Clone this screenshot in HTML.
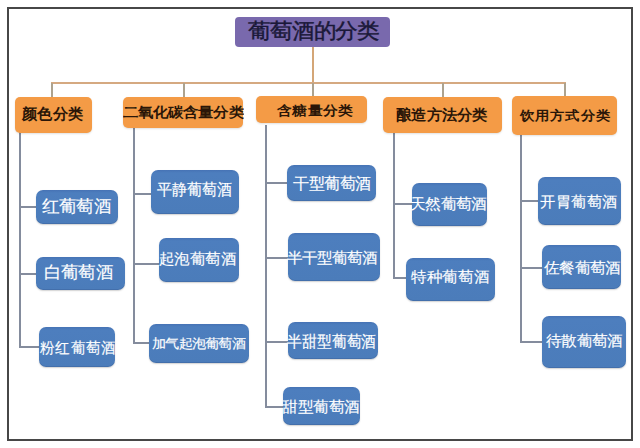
<!DOCTYPE html>
<html><head><meta charset="utf-8"><style>
html,body{margin:0;padding:0;background:#fff;}
body{width:640px;height:448px;position:relative;overflow:hidden;font-family:"Liberation Sans", sans-serif;}
#w{position:absolute;left:0;top:0;width:640px;height:448px;}
#w>div{position:absolute;}
</style></head><body><div id="w">
<div style="left:7px;top:7px;width:626px;height:434px;border:2px solid #474747;box-sizing:border-box;"></div>
<div style="left:311.5px;top:46px;width:2px;height:38px;background:#d4a677;"></div>
<div style="left:51.0px;top:82.0px;width:515px;height:2px;background:#d5a981;"></div>
<div style="left:51.0px;top:83px;width:2px;height:13.6px;background:#ada38f;"></div>
<div style="left:182.5px;top:83px;width:2px;height:13.9px;background:#ada38f;"></div>
<div style="left:311.5px;top:83px;width:2px;height:13.2px;background:#ada38f;"></div>
<div style="left:442.0px;top:83px;width:2px;height:13.9px;background:#ada38f;"></div>
<div style="left:564.0px;top:83px;width:2px;height:13.1px;background:#ada38f;"></div>
<div style="left:19.3px;top:125px;width:2px;height:223.3px;background:#848c9d;"></div>
<div style="left:20.3px;top:206.3px;width:15.7px;height:2px;background:#848c9d;"></div>
<div style="left:20.3px;top:273.0px;width:15.7px;height:2px;background:#848c9d;"></div>
<div style="left:20.3px;top:346.3px;width:18.7px;height:2px;background:#848c9d;"></div>
<div style="left:132.5px;top:125px;width:2px;height:219.3px;background:#848c9d;"></div>
<div style="left:133.5px;top:193.0px;width:17.5px;height:2px;background:#848c9d;"></div>
<div style="left:133.5px;top:263.0px;width:25.5px;height:2px;background:#848c9d;"></div>
<div style="left:133.5px;top:342.3px;width:15.5px;height:2px;background:#848c9d;"></div>
<div style="left:264.5px;top:125px;width:2px;height:283.0px;background:#848c9d;"></div>
<div style="left:265.5px;top:181.5px;width:21.5px;height:2px;background:#848c9d;"></div>
<div style="left:265.5px;top:256.5px;width:22.5px;height:2px;background:#848c9d;"></div>
<div style="left:265.5px;top:340.5px;width:22.5px;height:2px;background:#848c9d;"></div>
<div style="left:265.5px;top:406.0px;width:17.5px;height:2px;background:#848c9d;"></div>
<div style="left:393.0px;top:125px;width:2px;height:154.0px;background:#848c9d;"></div>
<div style="left:394px;top:203.0px;width:18px;height:2px;background:#848c9d;"></div>
<div style="left:394px;top:277.0px;width:12px;height:2px;background:#848c9d;"></div>
<div style="left:520.0px;top:125px;width:2px;height:218.0px;background:#848c9d;"></div>
<div style="left:521px;top:200.3px;width:17px;height:2px;background:#848c9d;"></div>
<div style="left:521px;top:267.0px;width:21px;height:2px;background:#848c9d;"></div>
<div style="left:521px;top:341.0px;width:21px;height:2px;background:#848c9d;"></div>
<div style="left:235px;top:17px;width:155px;height:30px;background:#7969ad;border-radius:4px;"></div>
<div style="left:15px;top:97px;width:77px;height:36px;background:#f49b46;border-radius:5px;box-shadow:0 1px 2px rgba(0,0,0,0.12);"></div>
<div style="left:123px;top:97px;width:120px;height:31px;background:#f49b46;border-radius:5px;box-shadow:0 1px 2px rgba(0,0,0,0.12);"></div>
<div style="left:256px;top:96px;width:111px;height:27px;background:#f49b46;border-radius:5px;box-shadow:0 1px 2px rgba(0,0,0,0.12);"></div>
<div style="left:383px;top:97px;width:119px;height:36px;background:#f49b46;border-radius:5px;box-shadow:0 1px 2px rgba(0,0,0,0.12);"></div>
<div style="left:512px;top:96px;width:105px;height:39px;background:#f49b46;border-radius:5px;box-shadow:0 1px 2px rgba(0,0,0,0.12);"></div>
<div style="left:36px;top:190px;width:82px;height:34px;background:linear-gradient(#4673b5 0px,#4d7ebe 3px,#4b7cba 100%);border-radius:7px;box-shadow:0 1px 1.5px rgba(0,0,0,0.18), inset 0 -1px 0 rgba(0,0,40,0.10);"></div>
<div style="left:36px;top:257px;width:89px;height:33px;background:linear-gradient(#4673b5 0px,#4d7ebe 3px,#4b7cba 100%);border-radius:7px;box-shadow:0 1px 1.5px rgba(0,0,0,0.18), inset 0 -1px 0 rgba(0,0,40,0.10);"></div>
<div style="left:39px;top:327px;width:76px;height:40px;background:linear-gradient(#4673b5 0px,#4d7ebe 3px,#4b7cba 100%);border-radius:7px;box-shadow:0 1px 1.5px rgba(0,0,0,0.18), inset 0 -1px 0 rgba(0,0,40,0.10);"></div>
<div style="left:151px;top:170px;width:88px;height:44px;background:linear-gradient(#4673b5 0px,#4d7ebe 3px,#4b7cba 100%);border-radius:7px;box-shadow:0 1px 1.5px rgba(0,0,0,0.18), inset 0 -1px 0 rgba(0,0,40,0.10);"></div>
<div style="left:159px;top:238px;width:80px;height:44px;background:linear-gradient(#4673b5 0px,#4d7ebe 3px,#4b7cba 100%);border-radius:7px;box-shadow:0 1px 1.5px rgba(0,0,0,0.18), inset 0 -1px 0 rgba(0,0,40,0.10);"></div>
<div style="left:149px;top:324px;width:100px;height:39px;background:linear-gradient(#4673b5 0px,#4d7ebe 3px,#4b7cba 100%);border-radius:7px;box-shadow:0 1px 1.5px rgba(0,0,0,0.18), inset 0 -1px 0 rgba(0,0,40,0.10);"></div>
<div style="left:287px;top:165px;width:89px;height:36px;background:linear-gradient(#4673b5 0px,#4d7ebe 3px,#4b7cba 100%);border-radius:7px;box-shadow:0 1px 1.5px rgba(0,0,0,0.18), inset 0 -1px 0 rgba(0,0,40,0.10);"></div>
<div style="left:288px;top:233px;width:92px;height:48px;background:linear-gradient(#4673b5 0px,#4d7ebe 3px,#4b7cba 100%);border-radius:7px;box-shadow:0 1px 1.5px rgba(0,0,0,0.18), inset 0 -1px 0 rgba(0,0,40,0.10);"></div>
<div style="left:288px;top:322px;width:90px;height:37px;background:linear-gradient(#4673b5 0px,#4d7ebe 3px,#4b7cba 100%);border-radius:7px;box-shadow:0 1px 1.5px rgba(0,0,0,0.18), inset 0 -1px 0 rgba(0,0,40,0.10);"></div>
<div style="left:283px;top:387px;width:77px;height:38px;background:linear-gradient(#4673b5 0px,#4d7ebe 3px,#4b7cba 100%);border-radius:7px;box-shadow:0 1px 1.5px rgba(0,0,0,0.18), inset 0 -1px 0 rgba(0,0,40,0.10);"></div>
<div style="left:412px;top:183px;width:75px;height:43px;background:linear-gradient(#4673b5 0px,#4d7ebe 3px,#4b7cba 100%);border-radius:7px;box-shadow:0 1px 1.5px rgba(0,0,0,0.18), inset 0 -1px 0 rgba(0,0,40,0.10);"></div>
<div style="left:406px;top:258px;width:89px;height:43px;background:linear-gradient(#4673b5 0px,#4d7ebe 3px,#4b7cba 100%);border-radius:7px;box-shadow:0 1px 1.5px rgba(0,0,0,0.18), inset 0 -1px 0 rgba(0,0,40,0.10);"></div>
<div style="left:538px;top:177px;width:83px;height:48px;background:linear-gradient(#4673b5 0px,#4d7ebe 3px,#4b7cba 100%);border-radius:7px;box-shadow:0 1px 1.5px rgba(0,0,0,0.18), inset 0 -1px 0 rgba(0,0,40,0.10);"></div>
<div style="left:542px;top:245px;width:79px;height:44px;background:linear-gradient(#4673b5 0px,#4d7ebe 3px,#4b7cba 100%);border-radius:7px;box-shadow:0 1px 1.5px rgba(0,0,0,0.18), inset 0 -1px 0 rgba(0,0,40,0.10);"></div>
<div style="left:542px;top:316px;width:84px;height:52px;background:linear-gradient(#4673b5 0px,#4d7ebe 3px,#4b7cba 100%);border-radius:7px;box-shadow:0 1px 1.5px rgba(0,0,0,0.18), inset 0 -1px 0 rgba(0,0,40,0.10);"></div>
<div style="left:248.07px;top:21.43px;font-size:22.24px;line-height:1;white-space:nowrap;color:#1a1838;font-weight:400;transform:scale(0.9930,0.9232);transform-origin:0 0;-webkit-text-stroke:0.45px #1a1838;">葡萄酒的分类</div>
<div style="left:21.91px;top:105.86px;font-size:15.08px;line-height:1;white-space:nowrap;color:#2a1608;font-weight:700;transform:scale(1.0168,1.0056);transform-origin:0 0;">颜色分类</div>
<div style="left:122.88px;top:105.31px;font-size:15.11px;line-height:1;white-space:nowrap;color:#2a1608;font-weight:700;transform:scale(1.0052,0.9094);transform-origin:0 0;">二氧化碳含量分类</div>
<div style="left:276.94px;top:103.41px;font-size:14.99px;line-height:1;white-space:nowrap;color:#2a1608;font-weight:700;transform:scale(1.0230,0.8983);transform-origin:0 0;">含糖量分类</div>
<div style="left:395.93px;top:107.82px;font-size:15.61px;line-height:1;white-space:nowrap;color:#2a1608;font-weight:700;transform:scale(0.9545,0.9338);transform-origin:0 0;">酿造方法分类</div>
<div style="left:520.09px;top:109.46px;font-size:15.61px;line-height:1;white-space:nowrap;color:#2a1608;font-weight:700;transform:scale(0.9466,0.8614);transform-origin:0 0;">饮用方式分类</div>
<div style="left:42.49px;top:198.09px;font-size:17.29px;line-height:1;white-space:nowrap;color:#fff;font-weight:400;transform:scale(1.0134,0.9821);transform-origin:0 0;-webkit-text-stroke:0.15px #fff;">红葡萄酒</div>
<div style="left:43.78px;top:264.79px;font-size:16.84px;line-height:1;white-space:nowrap;color:#fff;font-weight:400;transform:scale(1.0126,0.9854);transform-origin:0 0;-webkit-text-stroke:0.15px #fff;">白葡萄酒</div>
<div style="left:40.01px;top:339.64px;font-size:15.53px;line-height:1;white-space:nowrap;color:#fff;font-weight:400;transform:scale(0.9551,0.9861);transform-origin:0 0;-webkit-text-stroke:0.15px #fff;">粉红葡萄酒</div>
<div style="left:156.71px;top:181.28px;font-size:15.04px;line-height:1;white-space:nowrap;color:#fff;font-weight:400;transform:scale(0.9967,1.0663);transform-origin:0 0;-webkit-text-stroke:0.15px #fff;">平静葡萄酒</div>
<div style="left:159.1px;top:251.37px;font-size:15.49px;line-height:1;white-space:nowrap;color:#fff;font-weight:400;transform:scale(1.0278,0.9944);transform-origin:0 0;-webkit-text-stroke:0.15px #fff;">起泡葡萄酒</div>
<div style="left:152.42px;top:338.07px;font-size:13.43px;line-height:1;white-space:nowrap;color:#fff;font-weight:400;transform:scale(1.0214,0.9361);transform-origin:0 0;-webkit-text-stroke:0.15px #fff;">加气起泡葡萄酒</div>
<div style="left:293.26px;top:174.53px;font-size:16.41px;line-height:1;white-space:nowrap;color:#fff;font-weight:400;transform:scale(0.9757,0.9711);transform-origin:0 0;-webkit-text-stroke:0.15px #fff;">干型葡萄酒</div>
<div style="left:287.28px;top:250.48px;font-size:15.29px;line-height:1;white-space:nowrap;color:#fff;font-weight:400;transform:scale(1.0041,0.9663);transform-origin:0 0;-webkit-text-stroke:0.15px #fff;">半干型葡萄酒</div>
<div style="left:287.32px;top:333.98px;font-size:14.58px;line-height:1;white-space:nowrap;color:#fff;font-weight:400;transform:scale(0.9929,1.0720);transform-origin:0 0;-webkit-text-stroke:0.15px #fff;">半甜型葡萄酒</div>
<div style="left:281.98px;top:399.1px;font-size:15.49px;line-height:1;white-space:nowrap;color:#fff;font-weight:400;transform:scale(1.0408,0.9946);transform-origin:0 0;-webkit-text-stroke:0.15px #fff;">甜型葡萄酒</div>
<div style="left:409.62px;top:195.74px;font-size:15.12px;line-height:1;white-space:nowrap;color:#fff;font-weight:400;transform:scale(1.0242,0.9756);transform-origin:0 0;-webkit-text-stroke:0.15px #fff;">天然葡萄酒</div>
<div style="left:411.48px;top:269.63px;font-size:15.63px;line-height:1;white-space:nowrap;color:#fff;font-weight:400;transform:scale(0.9795,0.9421);transform-origin:0 0;-webkit-text-stroke:0.15px #fff;">特种葡萄酒</div>
<div style="left:539.83px;top:193.92px;font-size:16.05px;line-height:1;white-space:nowrap;color:#fff;font-weight:400;transform:scale(0.9746,0.9576);transform-origin:0 0;-webkit-text-stroke:0.15px #fff;">开胃葡萄酒</div>
<div style="left:543.58px;top:259.78px;font-size:15.32px;line-height:1;white-space:nowrap;color:#fff;font-weight:400;transform:scale(1.0197,0.9813);transform-origin:0 0;-webkit-text-stroke:0.15px #fff;">佐餐葡萄酒</div>
<div style="left:545.83px;top:333.01px;font-size:15.28px;line-height:1;white-space:nowrap;color:#fff;font-weight:400;transform:scale(1.0233,0.9832);transform-origin:0 0;-webkit-text-stroke:0.15px #fff;">待散葡萄酒</div>
</div></body></html>
